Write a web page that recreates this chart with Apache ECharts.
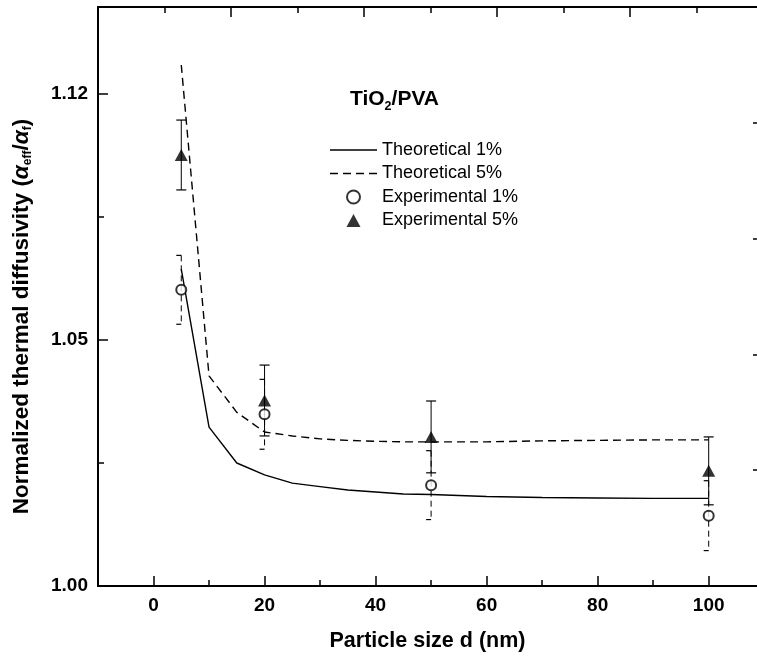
<!DOCTYPE html>
<html><head><meta charset="utf-8">
<script src="https://cdn.jsdelivr.net/npm/echarts@6/dist/echarts.min.js"></script>
<style>html,body{margin:0;padding:0;background:#fff}#c{width:757px;height:663px}</style>
</head><body><div id="c"></div>
<script>
// ---- data ----
const xTheo = [5, 10, 15, 20, 25, 30, 35, 40, 45, 50, 60, 70, 80, 90, 100];
const theo1 = [1.0644, 1.0323, 1.0250, 1.0226, 1.0209, 1.0202, 1.0195, 1.0191, 1.0187, 1.0186, 1.0182, 1.0180, 1.0179, 1.0178, 1.0178];
const theo5 = [1.1059, 1.0427, 1.0353, 1.0313, 1.0305, 1.0299, 1.0296, 1.0294, 1.0293, 1.0293, 1.0293, 1.0295, 1.0296, 1.0297, 1.0297];
const xExp = [5, 20, 50, 100];
const exp1 = [1.0602, 1.0349, 1.0205, 1.0143];
const exp1Err = [0.0070, 0.0071, 0.0070, 0.0071];
const exp5 = [1.0876, 1.0377, 1.0303, 1.0234];
const exp5Err = [0.0071, 0.0072, 0.0073, 0.0069];
const xTickValues = [0, 20, 40, 60, 80, 100];
const xTickLabels = ['0', '20', '40', '60', '80', '100'];
const xMinorTicks = [10, 30, 50, 70, 90];
const yTickValues = [1.00, 1.05, 1.10];
const yTickLabels = ['1.00', '1.05', '1.12'];
const seriesNames = ['Theoretical 1%', 'Theoretical 5%', 'Experimental 1%', 'Experimental 5%'];

const FONT = '"Liberation Sans", Arial, sans-serif';
const zip = (a, b) => a.map((v, i) => [v, b[i]]);
const zip3 = (a, b, c) => a.map((v, i) => [v, b[i], c[i]]);

function errRender(dashed, fullCap) {
  return function (params, api) {
    const x = api.value(0), y = api.value(1), e = api.value(2);
    const t = api.coord([x, y + e]);
    const b = api.coord([x, y - e]);
    const st = { stroke: '#000', lineWidth: 1, lineDash: dashed ? [6, 4] : null, fill: null };
    const cst = { stroke: '#000', lineWidth: 1.2, fill: null };
    const w = 5;
    const children = [
      { type: 'line', shape: { x1: t[0], y1: t[1], x2: b[0], y2: b[1] }, style: st },
      { type: 'line', shape: { x1: t[0] - w, y1: t[1], x2: fullCap ? t[0] + w : t[0], y2: t[1] }, style: cst },
      { type: 'line', shape: { x1: b[0] - w, y1: b[1], x2: fullCap ? b[0] + w : b[0], y2: b[1] }, style: cst }
    ];
    return { type: 'group', children: children };
  };
}

const chart = echarts.init(document.getElementById('c'), null, { renderer: 'canvas' });
const axisLineStyle = { color: '#000', width: 2 };
chart.setOption({
  animation: false,
  backgroundColor: '#fff',
  textStyle: { fontFamily: FONT },
  title: {
    text: '{b|TiO}{s|2}{b|/PVA}',
    left: 350, top: 86, padding: 0,
    textStyle: {
      rich: {
        b: { fontSize: 21, fontWeight: 'bold', color: '#000', fontFamily: FONT },
        s: { fontSize: 12.5, fontWeight: 'bold', color: '#000', fontFamily: FONT, verticalAlign: 'bottom', padding: [14, 0, 0, 0] }
      }
    }
  },
  legend: {
    data: [
      { name: seriesNames[0], icon: 'path://M0,0H47V1.5H0Z' },
      { name: seriesNames[1], icon: 'path://M0,0H8V1.5H0Z M13,0H21V1.5H13Z M26,0H34V1.5H26Z M39,0H47V1.5H39Z' },
      { name: seriesNames[2] },
      { name: seriesNames[3], icon: 'path://M7,0L14,13L0,13Z' }
    ],
    orient: 'vertical',
    left: 330, top: 141, padding: 0,
    itemWidth: 47, itemHeight: 13, itemGap: 5.5,
    textStyle: { fontSize: 18, color: '#000', fontFamily: FONT, lineHeight: 18 }
  },
  grid: { left: 98, top: 7, right: 0, height: 579, containLabel: false },
  xAxis: [
    {
      type: 'value', position: 'bottom', min: -10, max: 108.7,
      name: 'Particle size d (nm)', nameLocation: 'middle', nameGap: 44,
      nameTextStyle: { fontSize: 21.5, fontWeight: 'bold', color: '#000', fontFamily: FONT },
      axisLine: { onZero: false, lineStyle: axisLineStyle },
      axisTick: { inside: true, length: 10, customValues: xTickValues, lineStyle: { color: '#000', width: 1.5 } },
      axisLabel: { customValues: xTickValues, margin: 10, fontSize: 19, fontWeight: 'bold', color: '#000', fontFamily: FONT,
        formatter: v => { const i = xTickValues.findIndex(t => Math.abs(t - v) < 1e-6); return i >= 0 ? xTickLabels[i] : ''; } },
      splitLine: { show: false }
    },
    {
      type: 'value', position: 'bottom', min: -10, max: 108.7,
      axisLine: { show: false, onZero: false },
      axisTick: { inside: true, length: 6, customValues: xMinorTicks, lineStyle: { color: '#000', width: 1.5 } },
      axisLabel: { show: false }, splitLine: { show: false }
    },
    {
      type: 'value', position: 'top', min: 0, max: 9.91,
      axisLine: { onZero: false, lineStyle: axisLineStyle },
      axisTick: { inside: true, length: 10, customValues: [2, 4, 6, 8], lineStyle: { color: '#000', width: 1.5 } },
      axisLabel: { show: false }, splitLine: { show: false }
    },
    {
      type: 'value', position: 'top', min: 0, max: 9.91,
      axisLine: { show: false, onZero: false },
      axisTick: { inside: true, length: 6, customValues: [1, 3, 5, 7, 9], lineStyle: { color: '#000', width: 1.5 } },
      axisLabel: { show: false }, splitLine: { show: false }
    }
  ],
  yAxis: [
    {
      type: 'value', position: 'left', min: 1.0, max: 1.11768, interval: 0.05,
      name: 'Normalized thermal diffusivity ({g|α}{s|eff}{n|/}{g|α}{s|f}{n|)}',
      nameLocation: 'middle', nameRotate: 90, nameGap: 64,
      nameTextStyle: {
        fontSize: 22.5, fontWeight: 'bold', color: '#000', fontFamily: FONT,
        padding: [0, 40, 0, 0],
        rich: {
          g: { fontSize: 22.5, fontWeight: 'bold', fontStyle: 'italic', color: '#000', fontFamily: FONT },
          n: { fontSize: 22.5, fontWeight: 'bold', color: '#000', fontFamily: FONT },
          s: { fontSize: 12, fontWeight: 'bold', color: '#000', fontFamily: FONT, verticalAlign: 'bottom', padding: [12, 0, 0, 0] }
        }
      },
      axisLine: { onZero: false, lineStyle: axisLineStyle },
      axisTick: { inside: true, length: 10, lineStyle: { color: '#000', width: 1.5 } },
      minorTick: { show: true, splitNumber: 2, length: 6, lineStyle: { color: '#000', width: 1.5 } },
      axisLabel: { margin: 10, fontSize: 19, fontWeight: 'bold', color: '#000', fontFamily: FONT, showMaxLabel: false,
        formatter: v => { const i = yTickValues.findIndex(t => Math.abs(t - v) < 1e-6); return i >= 0 ? yTickLabels[i] : ''; } },
      splitLine: { show: false }, minorSplitLine: { show: false }
    },
    {
      type: 'value', position: 'right', min: 0, max: 5, interval: 1,
      axisLine: { show: false, onZero: false },
      axisTick: { inside: true, length: 4, lineStyle: { color: '#000', width: 1.5 } },
      axisLabel: { show: false }, splitLine: { show: false }
    }
  ],
  series: [
    {
      name: 'Theoretical 1%', type: 'line', xAxisIndex: 0, yAxisIndex: 0,
      data: zip(xTheo, theo1), symbol: 'none', smooth: false,
      lineStyle: { color: '#000', width: 1.4, type: 'solid' }, itemStyle: { color: '#000' }, z: 3
    },
    {
      name: 'Theoretical 5%', type: 'line', xAxisIndex: 0, yAxisIndex: 0,
      data: zip(xTheo, theo5), symbol: 'none', smooth: false,
      lineStyle: { color: '#000', width: 1.4, type: [8, 5] }, itemStyle: { color: '#000' }, z: 3
    },
    {
      type: 'custom', xAxisIndex: 0, yAxisIndex: 0, silent: true, z: 4,
      data: zip3(xExp, exp1, exp1Err), encode: { x: 0, y: 1 },
      renderItem: errRender(true, false)
    },
    {
      type: 'custom', xAxisIndex: 0, yAxisIndex: 0, silent: true, z: 4,
      data: zip3(xExp, exp5, exp5Err), encode: { x: 0, y: 1 },
      renderItem: errRender(false, true)
    },
    {
      name: 'Experimental 1%', type: 'scatter', xAxisIndex: 0, yAxisIndex: 0,
      data: zip(xExp, exp1), symbol: 'emptyCircle', symbolSize: 10,
      itemStyle: { color: '#000', borderColor: '#000', borderWidth: 1 }, z: 5
    },
    {
      name: 'Experimental 5%', type: 'scatter', xAxisIndex: 0, yAxisIndex: 0,
      data: zip(xExp, exp5), symbol: 'triangle', symbolSize: [13, 12],
      itemStyle: { color: '#000' }, z: 5
    }
  ]
});
</script>
</body></html>
